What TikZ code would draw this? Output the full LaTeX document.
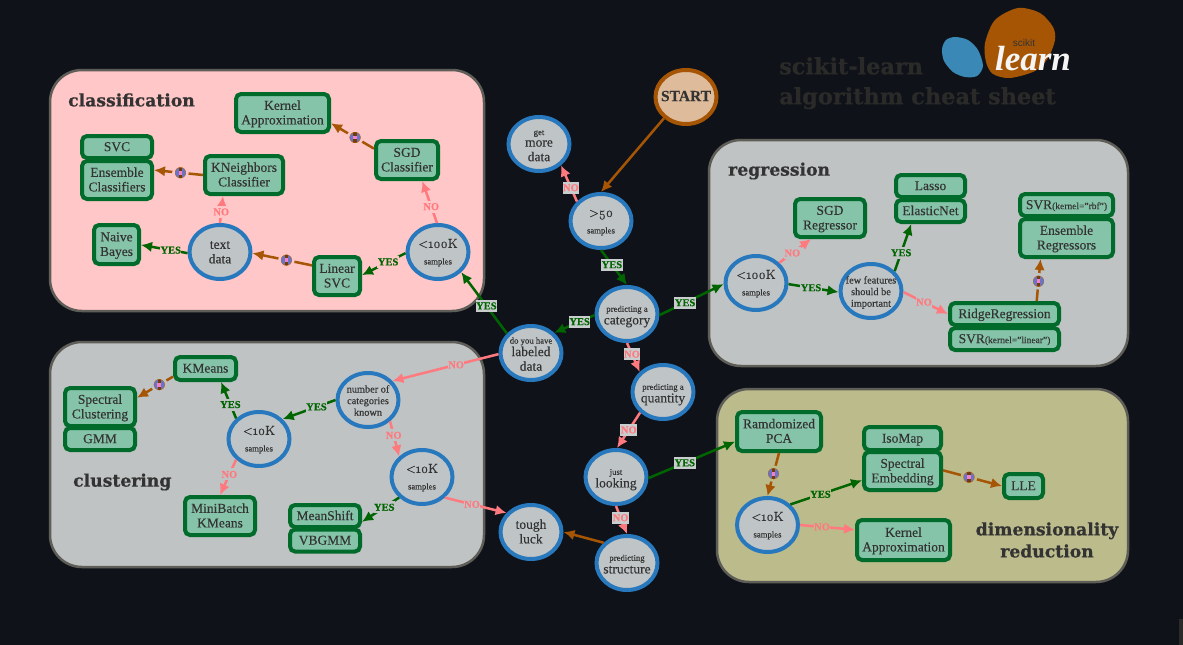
\documentclass[tikz,border=0pt]{standalone}
\usepackage{fontspec}
\usetikzlibrary{arrows.meta,shapes.geometric}
\setmainfont{Liberation Serif}[FakeBold=0.25]
\newfontfamily\ttlfont{DejaVu Serif}[BoldFeatures={FakeBold=0.6}]
\newfontfamily\labfont{Liberation Serif}[BoldFeatures={FakeBold=0.5}]
\newfontfamily\osffont{Latin Modern Roman}[Numbers=OldStyle,FakeBold=0.5]
\newfontfamily\skfont{Liberation Sans}
\definecolor{bgc}{HTML}{0F1319}
\definecolor{txt}{HTML}{333333}
\definecolor{pinkp}{HTML}{FFC7C7}
\definecolor{grayp}{HTML}{BFC3C4}
\definecolor{oliv}{HTML}{BBBB8B}
\definecolor{edgep}{HTML}{5F5D57}
\definecolor{boxf}{HTML}{85C4A9}
\definecolor{boxd}{HTML}{006B2B}
\definecolor{blu}{HTML}{2878BE}
\definecolor{ellf}{HTML}{BFC4C6}
\definecolor{brn}{HTML}{A65505}
\definecolor{grn}{HTML}{006400}
\definecolor{nop}{HTML}{FF7A7F}
\definecolor{startf}{HTML}{DEBB9B}
\definecolor{labd}{HTML}{C9CDCD}
\definecolor{ttlc}{HTML}{2A2A28}
\definecolor{logob}{HTML}{3A88B5}
\definecolor{bulb}{HTML}{6A74C4}
\newsavebox\cbox
\newcommand{\cen}[1]{\sbox\cbox{\begin{tabular}[b]{@{}c@{}}#1\end{tabular}}\makebox[0pt]{\raisebox{\dimexpr 1pt-.5\ht\cbox}[0pt][0pt]{\usebox\cbox}}}
\newcommand{\sm}[1]{{\fontsize{8.7}{10}\selectfont #1}}
\newcommand{\mdt}[1]{{\fontsize{10.3}{11.5}\selectfont #1}}
\newcommand{\osf}[1]{{\osffont\fontsize{13}{15}\selectfont #1}}
\newcommand{\svr}[1]{{\fontsize{9.5}{11}\selectfont #1}}
\tikzset{
  big/.style={font=\fontsize{13.5}{14.6}\selectfont,text=txt},
  q/.style={big,shape=ellipse,draw=blu,fill=ellf,line width=4pt,minimum width=61pt,minimum height=54pt,inner sep=0pt},
  bx/.style n args={2}{big,draw=boxd,fill=boxf,line width=4pt,rounded corners=5pt,inner sep=0pt,minimum width=#1pt-4pt,minimum height=#2pt-4pt},
  panel/.style={draw=edgep,line width=2.5pt,rounded corners=32pt},
  yesa/.style={draw=grn,line width=2.5pt,-{Latex[length=11pt,width=10.5pt]}},
  noa/.style={draw=nop,line width=2.5pt,-{Latex[length=11pt,width=10.5pt]}},
  bra/.style={draw=brn,line width=2.5pt,-{Latex[length=11pt,width=10.5pt]}},
  lab/.style={font=\labfont\fontsize{10.5}{10.5}\selectfont\bfseries,inner ysep=0pt,inner xsep=.5pt,minimum height=12pt},
  ylab/.style={lab,text=grn,fill=#1},
  nlab/.style={lab,text=nop,fill=#1},
  bul/.style={circle,inner sep=0pt,minimum size=14pt,draw=#1,line width=2.5pt,fill=brn!70!black,
    path picture={
      \fill[bulb] ([shift={(-6,-6)}]path picture bounding box.center) rectangle ++(4.2,12);
      \fill[bulb] ([shift={(1.8,-6)}]path picture bounding box.center) rectangle ++(4.2,12);
      \draw[brn!70!orange,line width=.8pt] (path picture bounding box.center) circle (5.7);
      \fill[magenta!50!white] ([shift={(-1.9,-1.9)}]path picture bounding box.center) rectangle ++(3.8,3.8);
    }},
  ttl/.style={font=\ttlfont\bfseries\fontsize{17.2}{22}\selectfont,text=txt,inner sep=0pt},
}
\begin{document}
\begin{tikzpicture}[x=1pt,y=-1pt]
\useasboundingbox (0,0) rectangle (1183,645);
\fill[bgc] (0,0) rectangle (1183,645);
\fill[ttlc] (1179,619) rectangle (1183,645);
% panels
\draw[panel,fill=pinkp] (50,70) rectangle (484,311);
\draw[panel,fill=grayp] (50,342) rectangle (484,567);
\draw[panel,fill=grayp] (709,140) rectangle (1128,366);
\draw[panel,fill=oliv] (717,389) rectangle (1128,582);
% titles
\node[font=\ttlfont\bfseries\fontsize{22.4}{30}\selectfont,text=ttlc,align=left,anchor=north west,inner sep=0pt] (sheet) at (779,57) {scikit-learn\\algorithm cheat sheet};
\node[ttl,anchor=west] (tcls) at (68,100) {classification};
\node[ttl,anchor=west] (treg) at (728,171) {regression};
\node[ttl,anchor=west] (tclu) at (73,482) {clustering};
\node[ttl,align=center] (tdim) at (1047,540) {dimensionality\\reduction};
% logo
\fill[logob] plot[smooth cycle] coordinates {(955,37) (968,40) (978,50) (983,66) (977,76) (965,77) (953,72) (944,61) (942,49) (946,40)};
\fill[brn] plot[smooth cycle] coordinates {(1018,8) (1040,13) (1053,27) (1055,40) (1048,58) (1035,71) (1010,78) (993,74) (986,62) (985,43) (995,20)};
\node[font=\skfont\fontsize{10}{10}\selectfont,text=txt,inner sep=0pt] (lgsk) at (1024,43) {scikit};
\node[font=\labfont\bfseries\itshape\fontsize{35}{35}\selectfont,text=white!92!gray,inner sep=0pt] (lglr) at (1033,59) {learn};
% decision nodes
\node[q,draw=brn,fill=startf] (START) at (686,97) {\cen{\fontsize{15.5}{15}\selectfont\bfseries START}};
\node[q] (more) at (539,144) {\cen{\sm{get}\\[-3pt]more\\data}};
\node[q] (fifty) at (601,221) {\cen{\osf{>50}\\[2pt]\sm{samples}}};
\node[q] (cat) at (627,314) {\cen{\sm{predicting a}\\[-2pt]category}};
\node[q] (labd) at (531,353) {\cen{\sm{do you have}\\[-2pt]labeled\\data}};
\node[q] (quant) at (663,392) {\cen{\sm{predicting a}\\[-2pt]quantity}};
\node[q] (look) at (616,477) {\cen{\sm{just}\\[-2pt]looking}};
\node[q] (struct) at (627,563) {\cen{\sm{predicting}\\[-2pt]structure}};
\node[q] (tough) at (531,532) {\cen{tough\\luck}};
\node[q] (chun) at (438,252) {\cen{\osf{<100K}\\[2pt]\sm{samples}}};
\node[q] (text) at (220,252) {\cen{text\\data}};
\node[q] (num) at (368,400) {\cen{\mdt{number of}\\[-3pt]\mdt{categories}\\[-3pt]\mdt{known}}};
\node[q] (ka) at (259,439) {\cen{\osf{<10K}\\[2pt]\sm{samples}}};
\node[q] (kb) at (422,477) {\cen{\osf{<10K}\\[2pt]\sm{samples}}};
\node[q] (rhun) at (756,283) {\cen{\osf{<100K}\\[2pt]\sm{samples}}};
\node[q] (few) at (871,291) {\cen{\mdt{few features}\\[-3pt]\mdt{should be}\\[-3pt]\mdt{important}}};
\node[q] (dk) at (767.5,525) {\cen{\osf{<10K}\\[2pt]\sm{samples}}};
% boxes
\node[bx={97}{42}] (kern) at (282.5,113) {\cen{Kernel\\Approximation}};
\node[bx={66}{42}] (sgd) at (407,160) {\cen{SGD\\Classifier}};
\node[bx={82}{42}] (knei) at (244,175) {\cen{KNeighbors\\Classifier}};
\node[bx={74}{26}] (svc) at (117,147) {\cen{SVC}};
\node[bx={74}{42}] (ens) at (117,180) {\cen{Ensemble\\Classifiers}};
\node[bx={49}{43}] (naive) at (116.5,244.5) {\cen{Naive\\Bayes}};
\node[bx={50}{42}] (lin) at (337,276) {\cen{Linear\\SVC}};
\node[bx={65}{27}] (kmeans) at (205.5,368.5) {\cen{KMeans}};
\node[bx={74}{42}] (spec) at (100,407) {\cen{Spectral\\Clustering}};
\node[bx={74}{26}] (gmm) at (100,439) {\cen{GMM}};
\node[bx={74}{42}] (mini) at (220,516) {\cen{MiniBatch\\KMeans}};
\node[bx={74}{26}] (mean) at (325,516) {\cen{MeanShift}};
\node[bx={74}{26}] (vb) at (325,540.5) {\cen{VBGMM}};
\node[bx={74}{42}] (sgdr) at (830,218) {\cen{SGD\\Regressor}};
\node[bx={73}{26}] (lasso) at (930.5,186) {\cen{Lasso}};
\node[bx={73}{26}] (elastic) at (930.5,211) {\cen{ElasticNet}};
\node[bx={97}{26}] (rbf) at (1066.5,205) {\cen{SVR\svr{(kernel="rbf")}}};
\node[bx={97}{42}] (ensr) at (1066.5,238) {\cen{Ensemble\\Regressors}};
\node[bx={113}{26}] (ridge) at (1004.5,314) {\cen{RidgeRegression}};
\node[bx={113}{26}] (svrl) at (1004.5,339) {\cen{SVR\svr{(kernel="linear")}}};
\node[bx={88}{43}] (pca) at (779,431.5) {\cen{Ramdomized\\PCA}};
\node[bx={81}{27}] (iso) at (902.5,438.5) {\cen{IsoMap}};
\node[bx={81}{42}] (sem) at (902.5,471) {\cen{Spectral\\Embedding}};
\node[bx={43}{28}] (lle) at (1023.5,486) {\cen{LLE}};
\node[bx={97}{44}] (kernb) at (903.5,540) {\cen{Kernel\\Approximation}};
% connectors: centre
\draw[bra] (START.224) -- (fifty.90);
\draw[noa] (fifty.141) -- node[nlab=labd,pos=.38] (l1) {NO} (more.-44);
\draw[yesa] (fifty.270) -- node[ylab=labd,pos=.42] (l2) {YES} (cat.90);
\draw[yesa] (cat.182) -- node[ylab=labd,pos=.37] (l3) {YES} (labd.41);
\draw[yesa] (cat.-2) -- node[ylab=labd,pos=.4] (l4) {YES} (rhun.182);
\draw[noa] (cat.270) -- node[nlab=labd,pos=.39] (l5) {NO} (quant.139);
\draw[noa] (quant.222) -- node[nlab=labd,pos=.49] (l6) {NO} (look.88);
\draw[noa] (look.270) -- node[nlab=labd,pos=.42] (l7) {NO} (struct.90);
\draw[yesa] (look.-2) -- node[ylab=labd,pos=.42] (l8) {YES} (pca.193.4);
\draw[bra] (struct.139) -- (tough.0);
\draw[yesa] (labd.141) -- node[ylab=labd,pos=.45] (l9) {YES} (chun.-41);
\draw[noa] (labd.182) -- node[nlab=grayp,pos=.4] (l10) {NO} (num.38);
% classification
\draw[noa] (chun.92) -- node[nlab=pinkp,pos=.39] (l11) {NO} (sgd.-54.5);
\draw[bra] (sgd.161) -- node[bul=pinkp,pos=.44] (b1) {} (kern.-12);
\draw[yesa] (chun.182) -- node[ylab=pinkp,pos=.4] (l12) {YES} (lin.2);
\draw[bra] (lin.157) -- node[bul=pinkp,pos=.43] (b2) {} (text.-2);
\draw[noa] (text.90) -- node[nlab=pinkp,pos=.41] (l13) {NO} (knei.225);
\draw[yesa] (text.182) -- node[ylab=pinkp,pos=.36] (l14) {YES} (naive.-1);
\draw[bra] (knei.180) -- node[bul=pinkp,pos=.46] (b3) {} (ens.15.5);
% clustering
\draw[yesa] (num.180) -- node[ylab=grayp,pos=.36] (l15) {YES} (ka.40);
\draw[yesa] (ka.138) -- node[ylab=grayp,pos=.38] (l16) {YES} (kmeans.-41);
\draw[bra] (kmeans.194) -- node[bul=grayp,pos=.38] (b4) {} (spec.14);
\draw[noa] (ka.222) -- node[nlab=grayp,pos=.42] (l17) {NO} (mini.90);
\draw[noa] (num.-44) -- node[nlab=grayp,pos=.4] (l18) {NO} (kb.138);
\draw[yesa] (kb.222) -- node[ylab=grayp,pos=.4] (l19) {YES} (mean.-9);
\draw[noa] (kb.-42) -- node[nlab=grayp,pos=.44] (l20) {NO} (tough.142);
% regression
\draw[noa] (rhun.41) -- node[nlab=grayp,pos=.41] (l21) {NO} (sgdr.228);
\draw[yesa] (rhun.-2) -- node[ylab=grayp,pos=.45] (l22) {YES} (few.182);
\draw[yesa] (few.40) -- node[ylab=grayp,pos=.39] (l23) {YES} (elastic.214);
\draw[noa] (few.-2) -- node[nlab=grayp,pos=.46] (l24) {NO} (ridge.180);
\draw[bra] (ridge.22) -- node[bul=grayp,pos=.47] (b5) {} (ensr.219);
% dimensionality
\draw[bra] (pca.270) -- node[bul=oliv,pos=.48] (b6) {} (dk.90);
\draw[yesa] (dk.42) -- node[ylab=oliv,pos=.42] (l25) {YES} (sem.193);
\draw[noa] (dk.0) -- node[nlab=oliv,pos=.4] (l26) {NO} (kernb.168);
\draw[bra] (sem.1) -- node[bul=oliv,pos=.44] (b7) {} (lle.180);
\end{tikzpicture}
\end{document}
